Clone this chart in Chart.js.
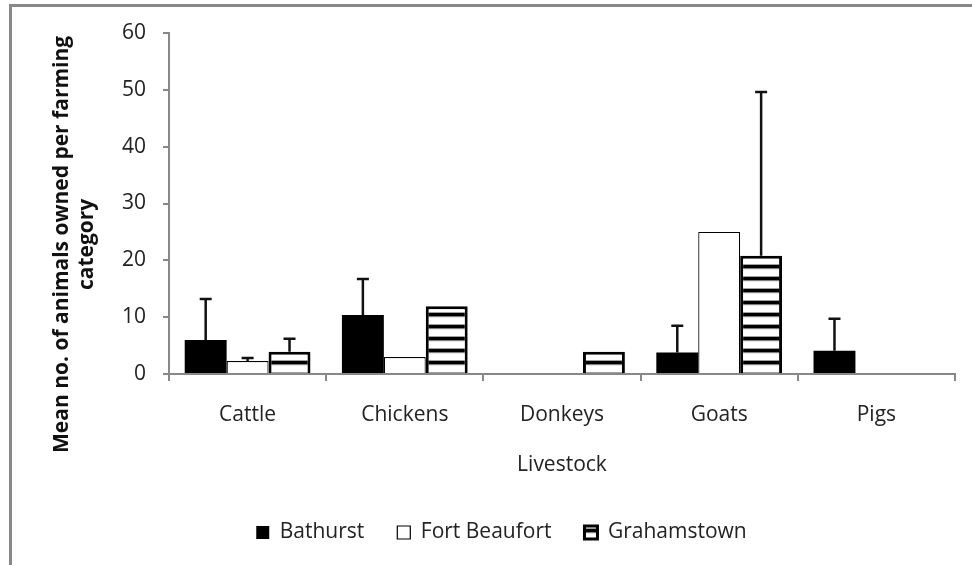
<!DOCTYPE html>
<html>
<head>
<meta charset="utf-8">
<script src="https://cdn.jsdelivr.net/npm/chart.js@4/dist/chart.umd.min.js"></script>
<style>
  html, body { margin: 0; padding: 0; background: #fff; }
  #wrap { width: 972px; height: 565px; position: relative; }
</style>
</head>
<body>
<div id="wrap"><canvas id="c" width="972" height="565"></canvas></div>
<script>
// ---- data ----
const categories = ['Cattle', 'Chickens', 'Donkeys', 'Goats', 'Pigs'];
const seriesNames = ['Bathurst', 'Fort Beaufort', 'Grahamstown'];
const bathurst = [6.0, 10.4, 0, 3.8, 4.1];
const fortBeaufort = [2.3, 3.0, 0, 25.0, 0];
const grahamstown = [3.9, 11.9, 3.9, 20.8, 0];
// upper ends of the error bars (null = no bar)
const bathurstErr = [13.2, 16.7, null, 8.5, 9.7];
const fortBeaufortErr = [2.8, null, null, null, null];
const grahamstownErr = [6.2, null, null, 49.6, null];
const yTicks = [0, 10, 20, 30, 40, 50, 60];

const FONT = "'Open Sans', 'DejaVu Sans', sans-serif";

function stripePattern() {
  const p = document.createElement('canvas');
  p.width = 8; p.height = 12;
  const g = p.getContext('2d');
  g.fillStyle = '#ffffff'; g.fillRect(0, 0, 8, 12);
  g.fillStyle = '#a0a0a0'; g.fillRect(0, 0, 8, 1);
  g.fillStyle = '#000000'; g.fillRect(0, 1, 8, 3);
  g.fillStyle = '#808080'; g.fillRect(0, 4, 8, 1);
  g.fillStyle = '#e6e6e6'; g.fillRect(0, 5, 8, 1);
  return document.getElementById('c').getContext('2d').createPattern(p, 'repeat');
}
const stripes = stripePattern();

const errorBars = {
  id: 'errorBars',
  afterDatasetsDraw(chart) {
    const ctx = chart.ctx;
    const yScale = chart.scales.y;
    chart.data.datasets.forEach((ds, i) => {
      const meta = chart.getDatasetMeta(i);
      if (meta.hidden) return;
      meta.data.forEach((bar, j) => {
        const hi = ds.errHigh ? ds.errHigh[j] : null;
        if (hi === null || hi === undefined) return;
        const yTop = yScale.getPixelForValue(hi);
        ctx.save();
        ctx.strokeStyle = '#111';
        ctx.lineWidth = 2.5;
        ctx.beginPath();
        ctx.moveTo(bar.x, bar.y);
        ctx.lineTo(bar.x, yTop);
        ctx.moveTo(bar.x - 6, yTop);
        ctx.lineTo(bar.x + 6, yTop);
        ctx.stroke();
        ctx.restore();
      });
    });
  }
};

const frame = {
  id: 'frame',
  beforeDraw(chart) {
    const ctx = chart.ctx;
    ctx.save();
    ctx.fillStyle = '#ffffff';
    ctx.fillRect(0, 0, chart.width, chart.height);
    ctx.fillStyle = '#888888';
    ctx.fillRect(9, 4, 3, chart.height - 4);
    ctx.fillRect(9, 4, chart.width - 9, 3);
    ctx.restore();
  }
};

const pad = '               ';
const PADL = 48;

new Chart(document.getElementById('c'), {
  type: 'bar',
  data: {
    labels: categories,
    datasets: [
      { label: seriesNames[0], data: bathurst, errHigh: bathurstErr,
        backgroundColor: '#000000', borderColor: '#000000', borderWidth: 0 },
      { label: seriesNames[1], data: fortBeaufort, errHigh: fortBeaufortErr,
        backgroundColor: '#ffffff', borderColor: '#000000', borderWidth: 1.2 },
      { label: seriesNames[2], data: grahamstown, errHigh: grahamstownErr,
        backgroundColor: stripes, borderColor: '#000000', borderWidth: 3 }
    ]
  },
  options: {
    responsive: false,
    animation: false,
    devicePixelRatio: 1,
    datasets: { bar: { categoryPercentage: 0.8, barPercentage: 1.0 } },
    layout: { padding: { top: 33, right: 17, left: PADL, bottom: 12 } },
    plugins: {
      legend: {
        position: 'bottom',
        labels: {
          boxWidth: 13, boxHeight: 13, padding: 33,
          color: '#222', font: { family: FONT, size: 21 }
        }
      },
      tooltip: { enabled: false }
    },
    scales: {
      x: {
        afterFit(scale) { scale.height = 115; },
        grid: { display: true, drawOnChartArea: false, offset: true, color: '#888', tickLength: 7, lineWidth: 2 },
        border: { color: '#888', width: 2 },
        ticks: { color: '#222', font: { family: FONT, size: 21 }, padding: 21, maxRotation: 0 },
        title: { display: true, text: 'Livestock', color: '#222',
                 font: { family: FONT, size: 21 }, padding: { top: 0, bottom: 11 } }
      },
      y: {
        min: 0, max: 60,
        afterFit(scale) { scale.width = 169 - PADL; },
        afterBuildTicks(scale) { scale.ticks = yTicks.map(v => ({ value: v })); },
        grid: { display: true, drawOnChartArea: false, color: '#888', tickLength: 6, lineWidth: 2 },
        border: { color: '#888', width: 2 },
        ticks: { color: '#222', font: { family: FONT, size: 21 }, padding: 17 },
        title: { display: true,
                 text: ['Mean no. of animals owned per farming' + pad, 'category' + pad],
                 color: '#111', font: { family: FONT, size: 21, weight: 'bold' },
                 padding: { top: 1, bottom: 0 } }
      }
    }
  },
  plugins: [frame, errorBars]
});
</script>
</body>
</html>
